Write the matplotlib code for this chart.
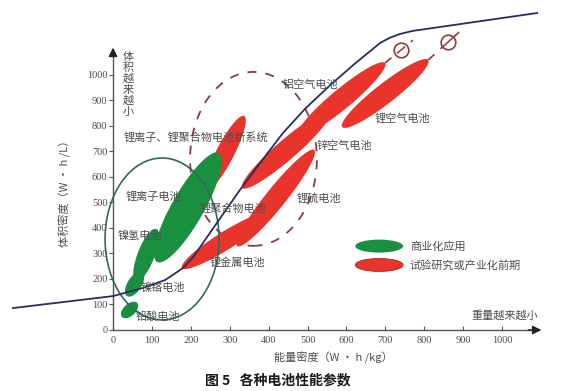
import matplotlib
matplotlib.use('Agg')
import matplotlib.pyplot as plt
import numpy as np
from matplotlib.patches import Ellipse, Polygon

plt.rcParams['font.family'] = ['Noto Sans CJK SC', 'DejaVu Sans']

# ---------------- data ----------------
x_ticks = [0, 100, 200, 300, 400, 500, 600, 700, 800, 900, 1000]
y_ticks = [0, 100, 200, 300, 400, 500, 600, 700, 800, 900, 1000]

# commercial batteries (green): energy density range (Wh/kg) and volume density range (Wh/L)
commercial_names = ['铅酸电池', '镍铬电池', '镍氢电池', '锂离子电池']
commercial_x_lo = [23, 36, 59, 113]
commercial_x_hi = [62, 75, 111, 272]
commercial_y_lo = [51, 133, 192, 267]
commercial_y_hi = [106, 227, 396, 694]

# research / pre-industrial batteries (red)
research_names = ['锂离子、锂聚合物电池新系统', '锂金属电池', '锂硫电池',
                  '锌空气电池', '铝空气电池', '锂空气电池']
research_x_lo = [239, 177, 319, 332, 476, 589]
research_x_hi = [337, 398, 517, 558, 699, 810]
research_y_lo = [549, 243, 329, 557, 765, 796]
research_y_hi = [839, 455, 706, 855, 1047, 1059]

# limit curve
curve_x = [-257, 0, 77, 134, 180, 206, 267, 326, 378, 437, 494, 558, 622, 686, 710, 738, 771, 1090]
curve_y = [86, 133, 165, 196, 243, 286, 420, 549, 655, 773, 868, 960, 1045, 1125, 1145, 1161, 1173, 1243]

# projected targets for air batteries
target_x = [740, 861]
target_y = [1098, 1129]

# ---------------- styles ----------------
GREEN = '#19903f'
RED = '#e8342b'
TXT = '#4d4d4d'
AX = '#555555'
NAVY = '#2b2b63'
DASH = '#8a3b3f'
commercial_hw = [6, 7, 8.5, 16]
research_hw = [9, 9, 10, 10, 10, 10]

fig = plt.figure(figsize=(5.78, 3.91), dpi=100)
ax = fig.add_axes([0, 0, 1, 1])
ax.set_xlim(-290.5, 1195)
ax.set_ylim(-239.2, 1294)
for s in ['top', 'right']:
    ax.spines[s].set_visible(False)
ax.spines['left'].set_position(('data', 0))
ax.spines['bottom'].set_position(('data', 0))
ax.spines['left'].set_bounds(0, 1090)
ax.spines['bottom'].set_bounds(0, 1080)
for s in ['left', 'bottom']:
    ax.spines[s].set_color(AX)
    ax.spines[s].set_linewidth(1.0)
ax.set_xticks(x_ticks)
ax.set_yticks(y_ticks)
ax.tick_params(axis='x', direction='in', length=3, pad=4, labelsize=7.5, colors=AX, labelcolor=TXT)
ax.tick_params(axis='y', direction='out', length=3, pad=1, labelsize=7.5, colors=AX, labelcolor=TXT)
for lab in ax.get_xticklabels() + ax.get_yticklabels():
    lab.set_fontfamily('Liberation Serif')
ax.patch.set_alpha(0)

# axis arrows
ax.annotate('', xy=(1108, 0), xytext=(1060, 0),
            arrowprops=dict(arrowstyle='-|>', color='#222222', lw=1.0, mutation_scale=13))
ax.annotate('', xy=(0, 1118), xytext=(0, 1060),
            arrowprops=dict(arrowstyle='-|>', color='#222222', lw=1.0, mutation_scale=13))


def blob(x0, y0, x1, y1, hw, color, z):
    p0 = ax.transData.transform((x0, y0))
    p1 = ax.transData.transform((x1, y1))
    c = (p0 + p1) / 2
    u = (p1 - p0) / 2
    L = np.hypot(*u)
    n = np.array([-u[1], u[0]]) / L
    t = np.linspace(0, 2 * np.pi, 120)
    pts = c + np.outer(np.cos(t), u) + np.outer(np.sin(t), n * hw)
    data = ax.transData.inverted().transform(pts)
    ax.add_patch(Polygon(data, closed=True, fc=color, ec='none', zorder=z))


# dashed ellipse (new Li systems)
ax.add_patch(Ellipse((361, 671), 326, 682, fill=False, ec=DASH, lw=1.3,
                     ls=(0, (5, 5)), zorder=2))

for i in range(len(research_names)):
    blob(research_x_lo[i], research_y_lo[i], research_x_hi[i], research_y_hi[i],
         research_hw[i], RED, 3)
for i in range(len(commercial_names)):
    blob(commercial_x_lo[i], commercial_y_lo[i], commercial_x_hi[i], commercial_y_hi[i],
         commercial_hw[i], GREEN, 4)

# commercial envelope
ax.add_patch(Ellipse((126, 357), 293, 635, fill=False, ec='#2f6b55', lw=1.2, zorder=5))

# limit curve
ax.plot(curve_x, curve_y, color=NAVY, lw=1.3, zorder=6, solid_joinstyle='round')

# dashed projections to targets
for k, i in enumerate([4, 5]):
    ax.plot([research_x_hi[i], target_x[k] + (target_x[k] - research_x_hi[i]) * 0.75],
            [research_y_hi[i], target_y[k] + (target_y[k] - research_y_hi[i]) * 0.75],
            color=DASH, lw=1.2, ls=(0, (5, 5)), zorder=6)
ax.scatter(target_x, target_y, s=110, facecolors='white', edgecolors=DASH, linewidths=1.2, zorder=7)
for k, i in enumerate([4, 5]):
    dx = target_x[k] - research_x_hi[i]
    dy = target_y[k] - research_y_hi[i]
    ax.plot([target_x[k] - dx * 0.22, target_x[k] + dx * 0.22],
            [target_y[k] - dy * 0.22, target_y[k] + dy * 0.22], color=DASH, lw=1.1, zorder=8)

# labels
fs = 8
labels = [
    ('镍氢电池', 12, 369), ('镍铬电池', 72, 165), ('铅酸电池', 57, 51),
    ('锂离子电池', 31, 522), ('锂离子、锂聚合物电池新系统', 28, 757),
    ('锂聚合物电池', 222, 478), ('锂金属电池', 249, 263), ('铝空气电池', 437, 961),
    ('锂空气电池', 673, 831), ('锌空气电池', 522, 722), ('锂硫电池', 473, 518),
]
for t, x, y in labels:
    ax.text(x, y, t, fontsize=fs, color=TXT, ha='left', va='center', zorder=9)

# vertical note along y axis, one character per line
for j, ch in enumerate('体积越来越小'):
    ax.annotate(ch, xy=(38.6, 1071), xytext=(0, -11 * j), textcoords='offset pixels',
                fontsize=fs, color=TXT, ha='center', va='center', zorder=9)
ax.text(1008, 59, '重量越来越小', fontsize=fs, color=TXT, ha='center', va='center', zorder=9)
ax.text(-123, 545, '体积密度（W · h /L）', fontsize=fs, color=TXT, rotation=90,
        ha='center', va='center')
ax.text(566, -108, '能量密度（W · h /kg）', fontsize=fs, color=TXT, ha='center', va='center')
ax.text(424, -196, '图 5   各种电池性能参数', fontsize=10, color='#1a1a1a', ha='center',
        va='center', fontweight='bold')

# legend
ax.add_patch(Ellipse((684, 329), 123, 51, fc=GREEN, ec='none', zorder=5))
ax.add_patch(Ellipse((684, 255), 123, 51, fc=RED, ec='#b02a25', lw=0.6, zorder=5))
ax.text(763, 329, '商业化应用', fontsize=fs, color=TXT, ha='left', va='center')
ax.text(763, 255, '试验研究或产业化前期', fontsize=fs, color=TXT, ha='left', va='center')

fig.savefig('out.png', dpi=100, facecolor='white')
